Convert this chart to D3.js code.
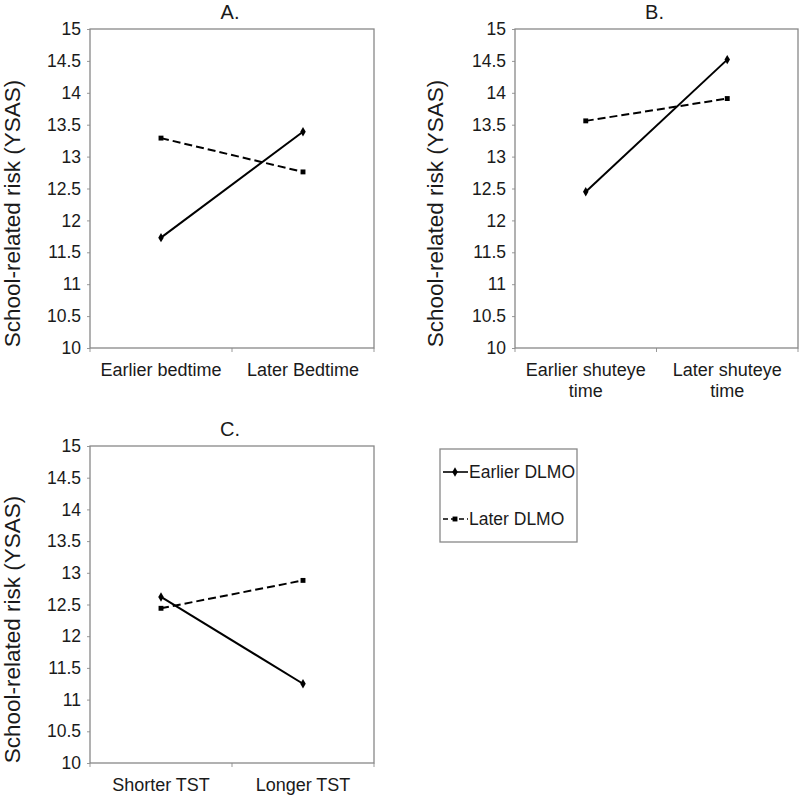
<!DOCTYPE html>
<html>
<head>
<meta charset="utf-8">
<script src="https://cdn.jsdelivr.net/npm/d3@7"></script>
<style>
  body { margin: 0; background: #fff; }
  svg { font-family: 'Liberation Sans', Arial, sans-serif; }
</style>
</head>
<body>
<svg id="chart"></svg>
<script>
// series and tick values
const seriesNames = ['Earlier DLMO', 'Later DLMO']
const yTicks = [10, 10.5, 11, 11.5, 12, 12.5, 13, 13.5, 14, 14.5, 15]

const catsA = ['Earlier bedtime', 'Later Bedtime']
const earlyA = [11.73, 13.39]
const lateA = [13.29, 12.76]

const catsB = ['Earlier shuteye time', 'Later shuteye time']
const earlyB = [12.45, 14.52]
const lateB = [13.56, 13.91]

const catsC = ['Shorter TST', 'Longer TST']
const earlyC = [12.62, 11.25]
const lateC = [12.44, 12.88]

const w = 800, h = 797

const svg = d3.select('#chart')
  .attr('width', w)
  .attr('height', h)

const panels = [
  { title: 'A.', cats: catsA, early: earlyA, late: lateA, l: 90, r: 374, t: 29, b: 348, yt: 12 },
  { title: 'B.', cats: catsB, early: earlyB, late: lateB, l: 515, r: 798, t: 29, b: 348, yt: 435 },
  { title: 'C.', cats: catsC, early: earlyC, late: lateC, l: 90, r: 374, t: 446, b: 763, yt: 12 }
]

const diamond = d3.symbol().type(d3.symbolDiamond).size(26)
const square = d3.symbol().type(d3.symbolSquare).size(24)

panels.forEach(p => {
  let scX = d3.scaleBand().domain(p.cats).range([p.l, p.r]).padding(0)
  let scY = d3.scaleLinear().domain([10, 15]).range([p.b, p.t])

  let g = svg.append('g')

  // y axis
  let yAx = d3.axisLeft(scY).tickValues(yTicks).tickSize(3).tickPadding(6)
    .tickFormat(d => String(d))
  let ya = g.append('g').attr('transform', `translate(${p.l},0)`).call(yAx)
  ya.select('.domain').remove()
  ya.selectAll('line').attr('stroke', '#999')
  ya.selectAll('text').attr('font-size', 17.5).attr('fill', '#1a1a1a')

  // x axis labels
  let xa = g.append('g').attr('transform', `translate(0,${p.b})`)
  xa.selectAll('text').data(p.cats).enter().append('text')
    .attr('x', d => scX(d) + scX.bandwidth() / 2)
    .attr('text-anchor', 'middle')
    .attr('font-size', 18)
    .attr('fill', '#1a1a1a')
    .each(function (d) {
      let parts = d.includes('shuteye') ? [d.replace(' time', ''), 'time'] : [d]
      d3.select(this).selectAll('tspan').data(parts).enter().append('tspan')
        .attr('x', scX(d) + scX.bandwidth() / 2)
        .attr('y', (s, i) => 28 + i * 21)
        .text(s => s)
    })

  // edge ticks on x axis
  let edges = p.cats.map(c => scX(c)).concat([scX.range()[1]])
  xa.selectAll('line').data(edges).enter().append('line')
    .attr('x1', d => d).attr('x2', d => d)
    .attr('y1', 0).attr('y2', 4)
    .attr('stroke', '#999')

  // plot box
  g.append('rect')
    .attr('x', p.l).attr('y', p.t)
    .attr('width', p.r - p.l).attr('height', p.b - p.t)
    .attr('fill', 'none').attr('stroke', '#888').attr('stroke-width', 1.3)

  // title
  g.append('text')
    .attr('x', (p.l + p.r) / 2 - 2)
    .attr('y', p.t - 10)
    .attr('text-anchor', 'middle')
    .attr('font-size', 20)
    .attr('fill', '#1a1a1a')
    .text(p.title)

  // y title
  g.append('text')
    .attr('transform', `translate(${p.yt + 8},${(p.t + p.b) / 2 + 25}) rotate(-90)`)
    .attr('text-anchor', 'middle')
    .attr('font-size', 22.5)
    .attr('fill', '#1a1a1a')
    .text('School-related risk (YSAS)')

  let cx = i => scX(p.cats[i]) + scX.bandwidth() / 2
  let line = d3.line().x((d, i) => cx(i)).y(d => scY(d))

  g.append('path').datum(p.early)
    .attr('d', line).attr('fill', 'none')
    .attr('stroke', '#000').attr('stroke-width', 2)
  g.append('path').datum(p.late)
    .attr('d', line).attr('fill', 'none')
    .attr('stroke', '#000').attr('stroke-width', 2)
    .attr('stroke-dasharray', '8,4')

  g.selectAll('.m1').data(p.early).enter().append('path')
    .attr('d', diamond)
    .attr('transform', (d, i) => `translate(${cx(i)},${scY(d)})`)
    .attr('fill', '#000')
  g.selectAll('.m2').data(p.late).enter().append('path')
    .attr('d', square)
    .attr('transform', (d, i) => `translate(${cx(i)},${scY(d)})`)
    .attr('fill', '#000')
})

// legend
let lg = svg.append('g')
lg.append('rect')
  .attr('x', 440).attr('y', 449).attr('width', 137).attr('height', 93)
  .attr('fill', 'none').attr('stroke', '#888').attr('stroke-width', 1.3)

seriesNames.forEach((s, i) => {
  let y = 472 + i * 47
  lg.append('line')
    .attr('x1', 443).attr('x2', 468).attr('y1', y).attr('y2', y)
    .attr('stroke', '#000').attr('stroke-width', 1.6)
    .attr('stroke-dasharray', i ? '5,3' : null)
  lg.append('path')
    .attr('d', i ? square : diamond)
    .attr('transform', `translate(455,${y})`)
    .attr('fill', '#000')
  lg.append('text')
    .attr('x', 469).attr('y', y + 6)
    .attr('font-size', 17.5)
    .attr('fill', '#1a1a1a')
    .text(s)
})
</script>
</body>
</html>
